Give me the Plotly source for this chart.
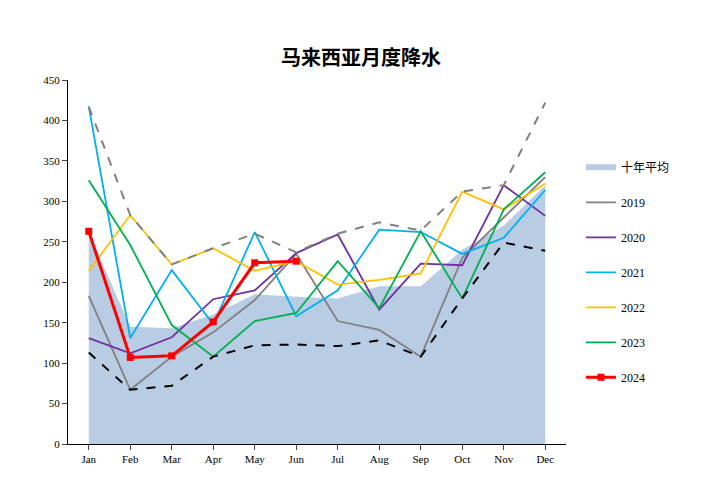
import plotly.graph_objects as go

months = ["Jan","Feb","Mar","Apr","May","Jun","Jul","Aug","Sep","Oct","Nov","Dec"]
avg10 = [262,145,143,160,185,182,180,195,195,240,270,320]
maxv = [417,283,222,242,260,237,260,274,264,312,320,422]
minv = [113,67,72,108,122,123,121,128,108,180,249,239]
y2019 = [183,67,108,138,178,235,152,141,108,230,280,330]
y2020 = [131,112,132,179,190,236,259,166,223,221,320,282]
y2021 = [417,131,215,148,262,158,190,265,262,235,255,314]
y2022 = [214,283,222,242,214,226,197,203,211,312,290,322]
y2023 = [326,246,147,108,152,162,226,168,263,180,290,336]
y2024 = [263,107,109,151,224,226]

xi = list(range(12))
fig = go.Figure()
fig.add_trace(go.Scatter(x=xi, y=avg10, fill="tozeroy", mode="none",
                         fillcolor="#b8cce4", name="十年平均", legendgroup="a"))
for name, ys, c in [("2019", y2019, "#808080"), ("2020", y2020, "#7030a0"),
                    ("2021", y2021, "#00b0f0"), ("2022", y2022, "#ffc000"),
                    ("2023", y2023, "#00b050")]:
    fig.add_trace(go.Scatter(x=xi, y=ys, mode="lines", name=name, legendgroup=name,
                             line=dict(color=c, width=1.8)))
fig.add_trace(go.Scatter(x=xi, y=maxv, mode="lines", showlegend=False,
                         line=dict(color="#808080", width=2, dash="dash")))
fig.add_trace(go.Scatter(x=xi, y=minv, mode="lines", showlegend=False,
                         line=dict(color="black", width=2, dash="dash")))
fig.add_trace(go.Scatter(x=xi[:6], y=y2024, mode="lines+markers", name="2024",
                         legendgroup="2024",
                         line=dict(color="#ff0000", width=3),
                         marker=dict(symbol="square", size=7, color="#ff0000")))

fig.update_layout(
    width=706, height=481, plot_bgcolor="white", paper_bgcolor="white",
    margin=dict(l=60, r=148, t=72, b=45),
    title=dict(text="<b>马来西亚月度降水</b>", x=0.5, xanchor="center", y=0.91,
               font=dict(family="Noto Sans CJK SC", size=20, color="black")),
    font=dict(family="Liberation Serif", size=12, color="black"),
    legend=dict(x=1.03, y=0.8, yanchor="top", tracegroupgap=16,
                font=dict(family="Liberation Serif, Noto Sans CJK SC", size=12)),
    xaxis=dict(range=[-0.5, 11.5], tickvals=xi, ticktext=months,
               showline=True, linecolor="black", ticks="outside", showgrid=False,
               zeroline=False, tickfont=dict(size=11)),
    yaxis=dict(range=[0, 450], dtick=50, showline=True, linecolor="black",
               ticks="outside", showgrid=False, zeroline=False, tickfont=dict(size=11)),
)
fig.write_html("out.html")
